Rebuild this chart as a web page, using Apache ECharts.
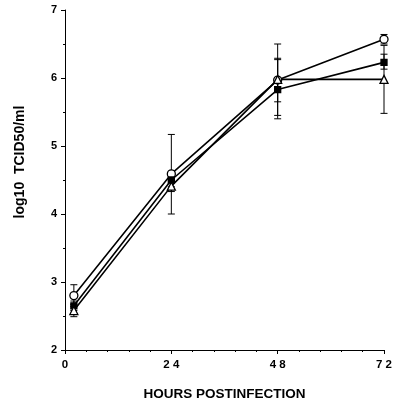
<!DOCTYPE html>
<html>
<head>
<meta charset="utf-8">
<script src="https://cdn.jsdelivr.net/npm/echarts@6/dist/echarts.min.js"></script>
<style>
  html, body { margin: 0; padding: 0; background: #fff; }
  #chart { width: 395px; height: 406px; }
</style>
</head>
<body>
<div id="chart"></div>
<script>
// hours postinfection
const hours = [2, 24, 48, 72]
const xTicks = ['0', '2 4', '4 8', '7 2']

// log10 TCID50/ml, mean and error bar ends
const circleVals = [2.80, 4.59, 5.97, 6.57]
const circleLow = [2.64, 4.00, 5.45, 6.50]
const circleHigh = [2.96, 5.17, 6.50, 6.64]

const squareVals = [2.65, 4.50, 5.83, 6.23]
const squareLow = [2.58, 4.40, 5.40, 6.13]
const squareHigh = [2.72, 4.60, 6.27, 6.35]

const triangleVals = [2.58, 4.41, 5.98, 5.98]
const triangleLow = [2.49, 4.33, 5.65, 5.48]
const triangleHigh = [2.67, 4.49, 6.29, 6.48]

const chart = echarts.init(document.getElementById('chart'))

const pts = (vals) => hours.map((h, i) => [h, vals[i]])
const bars = (low, high) => hours.map((h, i) => [h, low[i], high[i]])

const errorSeries = (low, high) => ({
	type: 'custom',
	data: bars(low, high),
	z: 1,
	silent: true,
	renderItem: (params, api) => {
		const x = api.value(0)
		const lo = api.coord([x, api.value(1)])
		const hi = api.coord([x, api.value(2)])
		const w = 3.5
		const style = { stroke: '#000', lineWidth: 1 }
		return {
			type: 'group',
			children: [
				{ type: 'line', shape: { x1: lo[0], y1: lo[1], x2: hi[0], y2: hi[1] }, style },
				{ type: 'line', shape: { x1: lo[0] - w, y1: lo[1], x2: lo[0] + w, y2: lo[1] }, style },
				{ type: 'line', shape: { x1: hi[0] - w, y1: hi[1], x2: hi[0] + w, y2: hi[1] }, style },
			],
		}
	},
})

const lineSeries = (vals, symbol, size, fill) => ({
	type: 'line',
	data: pts(vals),
	symbol,
	symbolSize: size,
	showAllSymbol: true,
	z: 3,
	lineStyle: { color: '#000', width: 1.6 },
	itemStyle: { color: fill, borderColor: '#000', borderWidth: 1.3 },
})

const labelFont = {
	color: '#000',
	fontFamily: 'Liberation Sans, Arial, sans-serif',
	fontWeight: 'bold',
	fontSize: 11,
}

chart.setOption({
	animation: false,
	grid: { left: 65, right: 9, top: 10, bottom: 52 },
	graphic: [
		{
			type: 'text',
			x: 20,
			y: 162,
			rotation: Math.PI / 2,
			style: {
				text: 'log10  TCID50/ml',
				...labelFont,
				fontSize: 14,
				fill: '#000',
				align: 'center',
				verticalAlign: 'middle',
			},
		},
	],
	xAxis: {
		type: 'value',
		min: 0,
		max: 72,
		interval: 24,
		name: 'HOURS POSTINFECTION',
		nameLocation: 'middle',
		nameGap: 37,
		nameTextStyle: { ...labelFont, fontSize: 13.5 },
		axisLine: { lineStyle: { color: '#000', width: 1 } },
		axisTick: { length: 4, lineStyle: { color: '#000' } },
		minorTick: { show: true, splitNumber: 5, length: 2, lineStyle: { color: '#000' } },
		axisLabel: { ...labelFont, fontSize: 11.5, margin: 9, formatter: (v) => xTicks[v / 24] },
		splitLine: { show: false },
	},
	yAxis: {
		type: 'value',
		min: 2,
		max: 7,
		interval: 1,
		axisLine: { show: true, lineStyle: { color: '#000', width: 1 } },
		axisTick: { show: true, length: 4, lineStyle: { color: '#000' } },
		minorTick: { show: true, splitNumber: 2, length: 2, lineStyle: { color: '#000' } },
		axisLabel: { ...labelFont, margin: 8 },
		splitLine: { show: false },
	},
	series: [
		errorSeries(circleLow, circleHigh),
		errorSeries(squareLow, squareHigh),
		errorSeries(triangleLow, triangleHigh),
		lineSeries(circleVals, 'circle', 8, '#fff'),
		lineSeries(squareVals, 'rect', 6, '#000'),
		lineSeries(triangleVals, 'triangle', 8, '#fff'),
	],
})
</script>
</body>
</html>
